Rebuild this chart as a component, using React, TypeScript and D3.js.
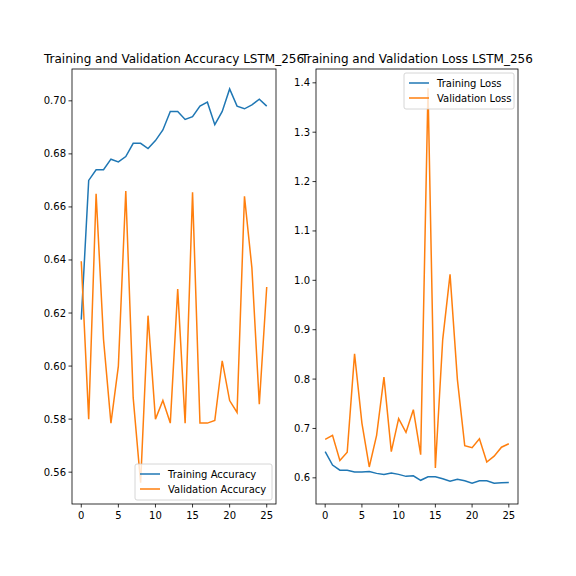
import * as d3 from 'd3';

const epochs = d3.range(0, 26);
const trainAcc = [0.6175, 0.670, 0.674, 0.674, 0.678, 0.677, 0.679, 0.684, 0.684, 0.682, 0.685, 0.689, 0.696, 0.696, 0.693, 0.694, 0.698, 0.6995, 0.691, 0.696, 0.7045, 0.698, 0.697, 0.6985, 0.7006, 0.698];
const valAcc = [0.6395, 0.580, 0.665, 0.610, 0.5785, 0.600, 0.666, 0.588, 0.556, 0.619, 0.580, 0.587, 0.5785, 0.629, 0.5785, 0.6655, 0.5785, 0.5785, 0.5795, 0.602, 0.587, 0.5825, 0.664, 0.637, 0.5856, 0.6298];
const trainLoss = [0.653, 0.626, 0.6155, 0.6155, 0.612, 0.612, 0.613, 0.609, 0.607, 0.610, 0.607, 0.603, 0.604, 0.595, 0.602, 0.602, 0.598, 0.593, 0.597, 0.594, 0.589, 0.594, 0.594, 0.589, 0.590, 0.5905];
const valLoss = [0.678, 0.686, 0.635, 0.652, 0.851, 0.711, 0.622, 0.686, 0.804, 0.653, 0.720, 0.692, 0.738, 0.647, 1.389, 0.620, 0.880, 1.012, 0.799, 0.665, 0.661, 0.679, 0.632, 0.644, 0.662, 0.669];
const accTicks = [0.56, 0.58, 0.60, 0.62, 0.64, 0.66, 0.68, 0.70];
const lossTicks = [0.6, 0.7, 0.8, 0.9, 1.0, 1.1, 1.2, 1.3, 1.4];
const xTicks = [0, 5, 10, 15, 20, 25];

const BLUE = '#1f77b4';
const ORANGE = '#ff7f0e';
const FONT = 'DejaVu Sans, sans-serif';

interface PanelProps {
  left: number; right: number; top: number; bottom: number;
  yDomain: [number, number]; yTicks: number[]; fmt: (v: number) => string;
  train: number[]; val: number[]; title: string; labels: [string, string];
  legendPos: 'lr' | 'ur';
}

function Panel(p: PanelProps) {
  const x = d3.scaleLinear([-1.25, 26.25], [p.left, p.right]);
  const y = d3.scaleLinear(p.yDomain, [p.bottom, p.top]);
  const line = d3.line<number>().x((_, i) => x(epochs[i])).y(d => y(d));
  const lw = p.legendPos === 'lr' ? 137 : 110;
  const lx = p.right - lw - 4;
  const ly = p.legendPos === 'lr' ? p.bottom - 40 : p.top + 4;
  return (
    <g fontFamily={FONT}>
      <defs>
        <clipPath id={`c${p.left}`}><rect x={p.left} y={p.top} width={p.right - p.left} height={p.bottom - p.top} /></clipPath>
      </defs>
      <g clipPath={`url(#c${p.left})`}>
        <path d={line(p.train) ?? ''} fill="none" stroke={BLUE} strokeWidth={1.5} />
        <path d={line(p.val) ?? ''} fill="none" stroke={ORANGE} strokeWidth={1.5} />
      </g>
      <rect x={p.left} y={p.top} width={p.right - p.left} height={p.bottom - p.top} fill="none" stroke="#000" strokeWidth={0.8} />
      {xTicks.map(t => (
        <g key={t}>
          <line x1={x(t)} x2={x(t)} y1={p.bottom} y2={p.bottom + 3.5} stroke="#000" strokeWidth={0.8} />
          <text x={x(t)} y={p.bottom + 15} fontSize={10} textAnchor="middle">{t}</text>
        </g>
      ))}
      {p.yTicks.map(t => (
        <g key={t}>
          <line x1={p.left - 3.5} x2={p.left} y1={y(t)} y2={y(t)} stroke="#000" strokeWidth={0.8} />
          <text x={p.left - 6} y={y(t) + 3.5} fontSize={10} textAnchor="end">{p.fmt(t)}</text>
        </g>
      ))}
      <text x={(p.left + p.right) / 2} y={p.top - 6} fontSize={12} textAnchor="middle">{p.title}</text>
      <rect x={lx} y={ly} width={lw} height={36} rx={2} fill="#fff" fillOpacity={0.8} stroke="#ccc" strokeWidth={0.8} />
      {p.labels.map((l, i) => (
        <g key={l}>
          <line x1={lx + 5} x2={lx + 25} y1={ly + 10 + i * 15} y2={ly + 10 + i * 15} stroke={i ? ORANGE : BLUE} strokeWidth={1.5} />
          <text x={lx + 33} y={ly + 14 + i * 15} fontSize={10}>{l}</text>
        </g>
      ))}
    </g>
  );
}

export default function App() {
  return (
    <svg width={576} height={576} style={{ position: 'absolute', left: 0, top: 0, background: '#fff' }}>
      <Panel left={72} right={276} top={69} bottom={504} yDomain={[0.548, 0.712]} yTicks={accTicks}
        fmt={d3.format('.2f')} train={trainAcc} val={valAcc}
        title="Training and Validation Accuracy LSTM_256" labels={['Training Accuracy', 'Validation Accuracy']} legendPos="lr" />
      <Panel left={316} right={518} top={69} bottom={504} yDomain={[0.547, 1.428]} yTicks={lossTicks}
        fmt={d3.format('.1f')} train={trainLoss} val={valLoss}
        title="Training and Validation Loss LSTM_256" labels={['Training Loss', 'Validation Loss']} legendPos="ur" />
    </svg>
  );
}
